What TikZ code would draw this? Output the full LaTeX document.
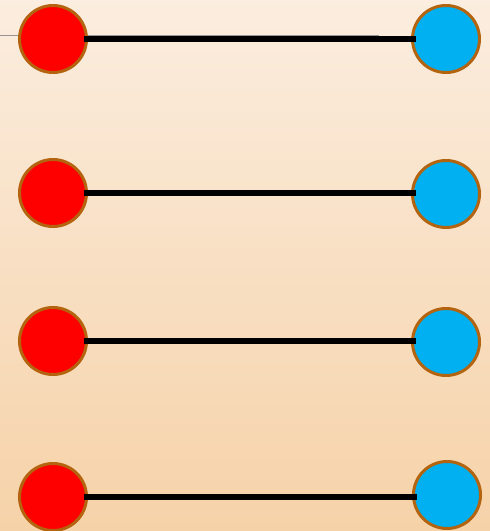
\documentclass[tikz,border=0pt]{standalone}
\definecolor{bgtop}{RGB}{251,237,223}
\definecolor{bgbot}{RGB}{246,210,168}
\definecolor{rim}{RGB}{180,100,15}
\definecolor{cyanfill}{RGB}{0,176,240}
\definecolor{greyline}{RGB}{150,150,150}
\tikzset{
  dot/.style={circle, draw=rim, line width=3pt, inner sep=0pt, minimum size=67pt},
  reddot/.style={dot, fill=red},
  bluedot/.style={dot, fill=cyanfill},
  link/.style={line width=5.5pt, black, shorten <=-4pt, shorten >=-5pt}
}
\begin{document}
\begin{tikzpicture}[x=1pt,y=-1pt]
\shade[top color=bgtop, bottom color=bgbot] (0,0) rectangle (490,531);
\useasboundingbox (0,0) rectangle (490,531);
\coordinate (g1) at (0,35.5);
\coordinate (g2) at (379,35.5);
\draw[draw=greyline, line width=1.2pt] (g1) -- (g2);
\node[reddot] (r1) at (53,39) {};
\node[reddot] (r2) at (53,193) {};
\node[reddot] (r3) at (53,341) {};
\node[reddot] (r4) at (53,497) {};
\node[bluedot] (b1) at (446,39) {};
\node[bluedot] (b2) at (446,194) {};
\node[bluedot] (b3) at (446,342) {};
\node[bluedot] (b4) at (447,495) {};
\draw[link] (r1.east) -- (b1.west);
\draw[link] (r2.east) -- (r2.east -| b2.west);
\draw[link] (r3.east) -- (r3.east -| b3.west);
\draw[link] (r4.east) -- (r4.east -| b4.west);
\end{tikzpicture}
\end{document}
